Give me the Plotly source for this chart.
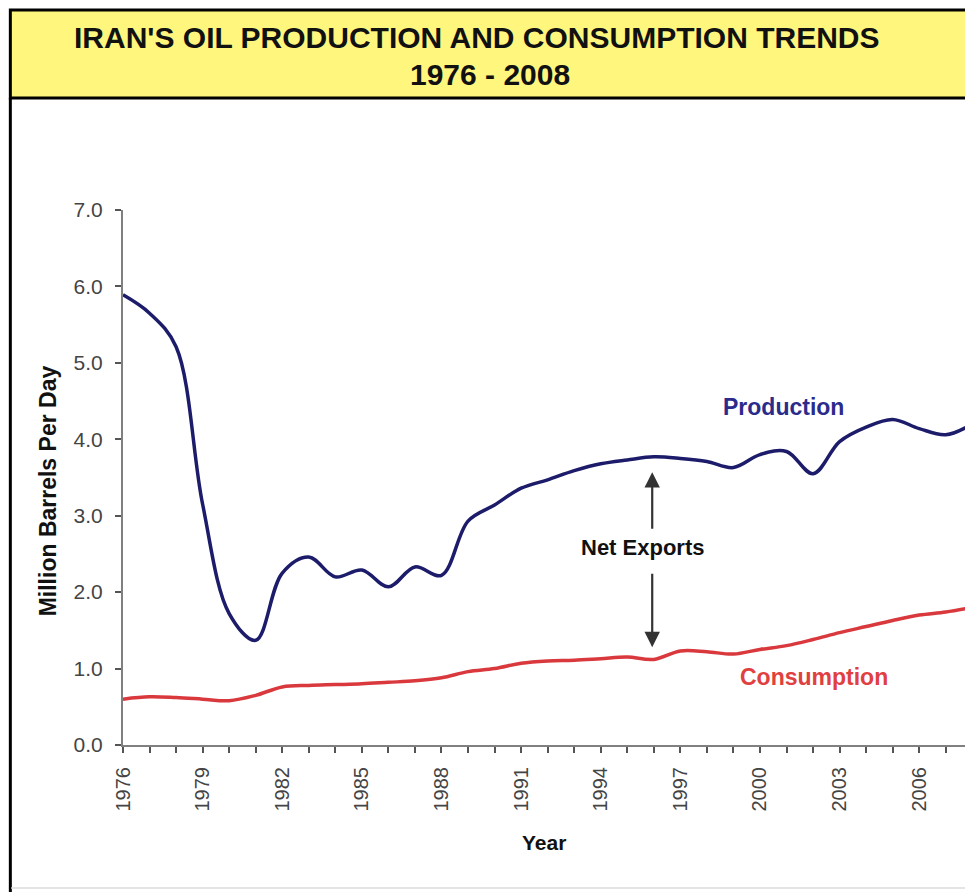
import plotly.graph_objects as go

# Iran oil production and consumption, million barrels per day
years = list(range(1976, 2009))
production = [5.89, 5.65, 5.21, 3.15, 1.72, 1.37, 2.25, 2.46, 2.20, 2.29,
              2.07, 2.33, 2.22, 2.93, 3.14, 3.36, 3.47, 3.59, 3.68, 3.73,
              3.77, 3.75, 3.71, 3.63, 3.80, 3.84, 3.55, 3.97, 4.16, 4.26,
              4.14, 4.06, 4.20]
consumption = [0.60, 0.63, 0.62, 0.60, 0.58, 0.65, 0.76, 0.78, 0.79, 0.80,
               0.82, 0.84, 0.88, 0.96, 1.00, 1.07, 1.10, 1.11, 1.13, 1.15,
               1.12, 1.23, 1.22, 1.19, 1.25, 1.30, 1.38, 1.47, 1.55, 1.63,
               1.70, 1.74, 1.80]
label_years = list(range(1976, 2007, 3))
y_ticks = [0, 1, 2, 3, 4, 5, 6, 7]

W, H = 965, 892
L, R, T, B = 122.7, 0, 210, 147
X_PER_YEAR = 26.55
x_max = 1976 + (W - L - R) / X_PER_YEAR

FONT = "Arial, Liberation Sans, sans-serif"


def px_x(px):
    return (px - L) / (W - L - R)


def px_y(py):
    return (H - B - py) / (H - T - B)


fig = go.Figure()
fig.add_trace(go.Scatter(x=years, y=production, mode="lines",
                         line=dict(color="#1c1c6a", width=3.5, shape="spline", smoothing=1.0),
                         name="Production", hoverinfo="x+y"))
fig.add_trace(go.Scatter(x=years, y=consumption, mode="lines",
                         line=dict(color="#d9383c", width=3.5, shape="spline", smoothing=1.0),
                         name="Consumption", hoverinfo="x+y"))

shapes = [
    # title banner
    dict(type="rect", xref="paper", yref="paper",
         x0=px_x(10), x1=px_x(980), y0=px_y(98), y1=px_y(10),
         fillcolor="#fff67e", line=dict(color="#000000", width=3), layer="below"),
    # chart frame: left edge and faint bottom edge
    dict(type="line", xref="paper", yref="paper",
         x0=px_x(10), x1=px_x(10), y0=px_y(98), y1=px_y(900),
         line=dict(color="#000000", width=3)),
    dict(type="line", xref="paper", yref="paper",
         x0=px_x(11), x1=px_x(970), y0=px_y(888), y1=px_y(888),
         line=dict(color="#e4e4e4", width=2)),
]

net_x = 1995.94
annotations = [
    dict(text="IRAN'S OIL PRODUCTION AND CONSUMPTION TRENDS", xref="paper", yref="paper",
         x=px_x(477), y=px_y(38), showarrow=False, xanchor="center", yanchor="middle",
         font=dict(family=FONT, size=30, color="#111111", weight="bold")),
    dict(text="1976 - 2008", xref="paper", yref="paper",
         x=px_x(490), y=px_y(74), showarrow=False, xanchor="center", yanchor="middle",
         font=dict(family=FONT, size=30, color="#111111", weight="bold")),
    dict(text="Million Barrels Per Day", xref="paper", yref="paper",
         x=px_x(48), y=px_y(491), showarrow=False, textangle=-90,
         xanchor="center", yanchor="middle",
         font=dict(family=FONT, size=23, color="#111111", weight="bold")),
    dict(text="Year", xref="paper", yref="paper",
         x=px_x(544), y=px_y(842), showarrow=False, xanchor="center", yanchor="middle",
         font=dict(family=FONT, size=21, color="#111111", weight="bold")),
    dict(text="Production", x=2000.87, y=4.42, showarrow=False,
         font=dict(family=FONT, size=23, color="#2b2b8c", weight="bold")),
    dict(text="Consumption", x=2002.04, y=0.89, showarrow=False,
         font=dict(family=FONT, size=23, color="#e0403f", weight="bold")),
    dict(text="Net Exports", x=1995.56, y=2.59, showarrow=False,
         font=dict(family=FONT, size=22, color="#111111", weight="bold")),
    # double-headed arrow between the two curves
    dict(text="", x=net_x, y=3.57, ax=net_x, ay=2.81, xref="x", yref="y",
         axref="x", ayref="y", showarrow=True, arrowhead=2, arrowsize=1.4,
         arrowwidth=2.2, arrowcolor="#333333"),
    dict(text="", x=net_x, y=1.28, ax=net_x, ay=2.26, xref="x", yref="y",
         axref="x", ayref="y", showarrow=True, arrowhead=2, arrowsize=1.4,
         arrowwidth=2.2, arrowcolor="#333333"),
]

fig.update_layout(
    width=W, height=H,
    margin=dict(l=L, r=R, t=T, b=B, autoexpand=False),
    paper_bgcolor="#ffffff", plot_bgcolor="#ffffff",
    showlegend=False,
    shapes=shapes, annotations=annotations,
    font=dict(family=FONT),
)

fig.update_xaxes(
    range=[1976, x_max], showgrid=False, zeroline=False,
    showline=True, linecolor="#808080", linewidth=2,
    tickmode="array", tickvals=label_years, ticktext=[str(y) for y in label_years],
    ticks="outside", ticklen=6, tickwidth=1.5, tickcolor="#555555",
    tickangle=-90, ticklabelstandoff=6,
    tickfont=dict(family=FONT, size=20, color="#444444"),
    minor=dict(tick0=1976, dtick=1, ticks="outside", ticklen=6, tickwidth=1.5,
               tickcolor="#555555", showgrid=False),
)
fig.update_yaxes(
    range=[0, 7], showgrid=False, zeroline=False,
    showline=True, linecolor="#808080", linewidth=2,
    tickmode="array", tickvals=y_ticks, ticktext=[f"{v:.1f}" for v in y_ticks],
    ticks="outside", ticklen=6, tickwidth=1.5, tickcolor="#555555",
    ticklabelstandoff=8,
    tickfont=dict(family=FONT, size=21, color="#444444"),
)

fig.write_html("out.html")
